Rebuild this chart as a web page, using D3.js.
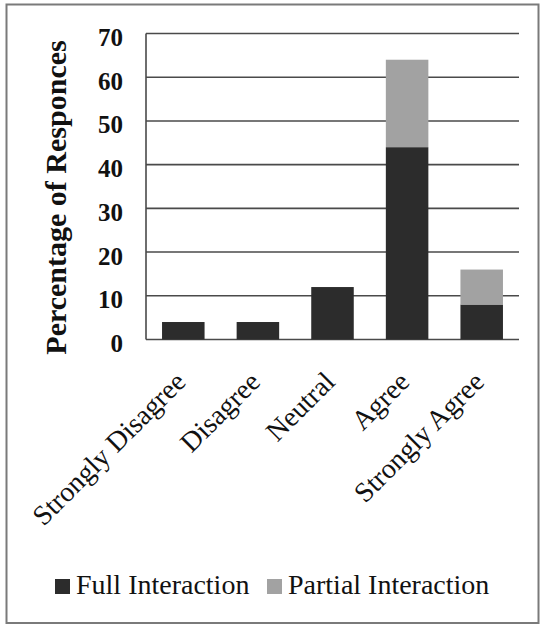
<!DOCTYPE html>
<html>
<head>
<meta charset="utf-8">
<script src="https://cdn.jsdelivr.net/npm/d3@7/dist/d3.min.js"></script>
<style>
  html, body { margin: 0; padding: 0; background: #fff; }
  svg { display: block; }
</style>
</head>
<body>
<svg id="chart" width="544" height="626"></svg>
<script>
// Survey responses by level of agreement, split by interaction type
const categories = ["Strongly Disagree", "Disagree", "Neutral", "Agree", "Strongly Agree"];
const fullInteraction = [4, 4, 12, 44, 8];
const partialInteraction = [0, 0, 0, 20, 8];
const seriesNames = ["Full Interaction", "Partial Interaction"];
const seriesColors = ["#2c2c2c", "#a2a2a2"];
const yTicks = [0, 10, 20, 30, 40, 50, 60, 70];
const yTitle = "Percentage of Responces";

const svg = d3.select("#chart");
const W = 544, H = 626;
const serif = "'Liberation Serif', 'DejaVu Serif', serif";

// frame around the whole figure
svg.append("rect")
  .attr("x", 6.5).attr("y", 4.5)
  .attr("width", W - 12).attr("height", H - 7.5)
  .attr("fill", "#fff")
  .attr("stroke", "#7a7a7a")
  .attr("stroke-width", 2);

const plot = { left: 146, right: 519, top: 33.5, bottom: 339.5 };

const x = d3.scaleBand()
  .domain(categories)
  .range([plot.left, plot.right])
  .paddingInner(0.43)
  .paddingOuter(0.215);

const y = d3.scaleLinear()
  .domain([0, 70])
  .range([plot.bottom, plot.top]);

// horizontal gridlines
svg.append("g")
  .selectAll("line")
  .data(yTicks)
  .join("line")
  .attr("x1", plot.left).attr("x2", plot.right)
  .attr("y1", d => y(d)).attr("y2", d => y(d))
  .attr("stroke", "#4a4a4a")
  .attr("stroke-width", 1.6);

// vertical axis line
svg.append("line")
  .attr("x1", plot.left).attr("x2", plot.left)
  .attr("y1", y(70)).attr("y2", y(0))
  .attr("stroke", "#4a4a4a")
  .attr("stroke-width", 1.6);

// stacked bars
const rows = categories.map((c, i) => ({
  category: c,
  "Full Interaction": fullInteraction[i],
  "Partial Interaction": partialInteraction[i]
}));
const stacked = d3.stack().keys(seriesNames)(rows);

svg.append("g")
  .selectAll("g")
  .data(stacked)
  .join("g")
  .attr("fill", (d, i) => seriesColors[i])
  .selectAll("rect")
  .data(d => d.filter(p => p[1] > p[0]))
  .join("rect")
  .attr("x", d => x(d.data.category))
  .attr("width", x.bandwidth())
  .attr("y", d => y(d[1]))
  .attr("height", d => y(d[0]) - y(d[1]));

// y tick labels
const yAxis = d3.axisLeft(y).tickValues(yTicks).tickSize(0).tickPadding(0);
const yg = svg.append("g")
  .attr("transform", `translate(${plot.left - 23},0)`)
  .call(yAxis);
yg.select(".domain").remove();
yg.selectAll("text")
  .attr("font-family", serif)
  .attr("font-weight", "bold")
  .attr("font-size", 25)
  .attr("fill", "#111")
  .attr("dy", "0.48em");

// category labels, rotated
const xAxis = d3.axisBottom(x).tickSize(0).tickPadding(0);
const xg = svg.append("g")
  .attr("transform", `translate(0,${plot.bottom})`)
  .call(xAxis);
xg.select(".domain").remove();
xg.selectAll("text")
  .attr("font-family", serif)
  .attr("font-size", 28)
  .attr("fill", "#111")
  .attr("text-anchor", "end")
  .attr("dy", null)
  .attr("y", null)
  .attr("transform", "translate(4,44) rotate(-45)");

// y axis title
svg.append("text")
  .attr("transform", `translate(66,${(y(0) + y(70)) / 2 + 11}) rotate(-90)`)
  .attr("text-anchor", "middle")
  .attr("font-family", serif)
  .attr("font-weight", "bold")
  .attr("font-size", 30)
  .attr("fill", "#111")
  .text(yTitle);

// legend
const legendItems = [
  { name: seriesNames[0], color: seriesColors[0], x: 55 },
  { name: seriesNames[1], color: seriesColors[1], x: 267 }
];
const lg = svg.append("g").selectAll("g")
  .data(legendItems)
  .join("g")
  .attr("transform", d => `translate(${d.x},579)`);
lg.append("rect")
  .attr("width", 15).attr("height", 15)
  .attr("fill", d => d.color);
lg.append("text")
  .attr("x", 21).attr("y", 15)
  .attr("font-family", serif)
  .attr("font-size", 28)
  .attr("fill", "#111")
  .text(d => d.name);
</script>
</body>
</html>
